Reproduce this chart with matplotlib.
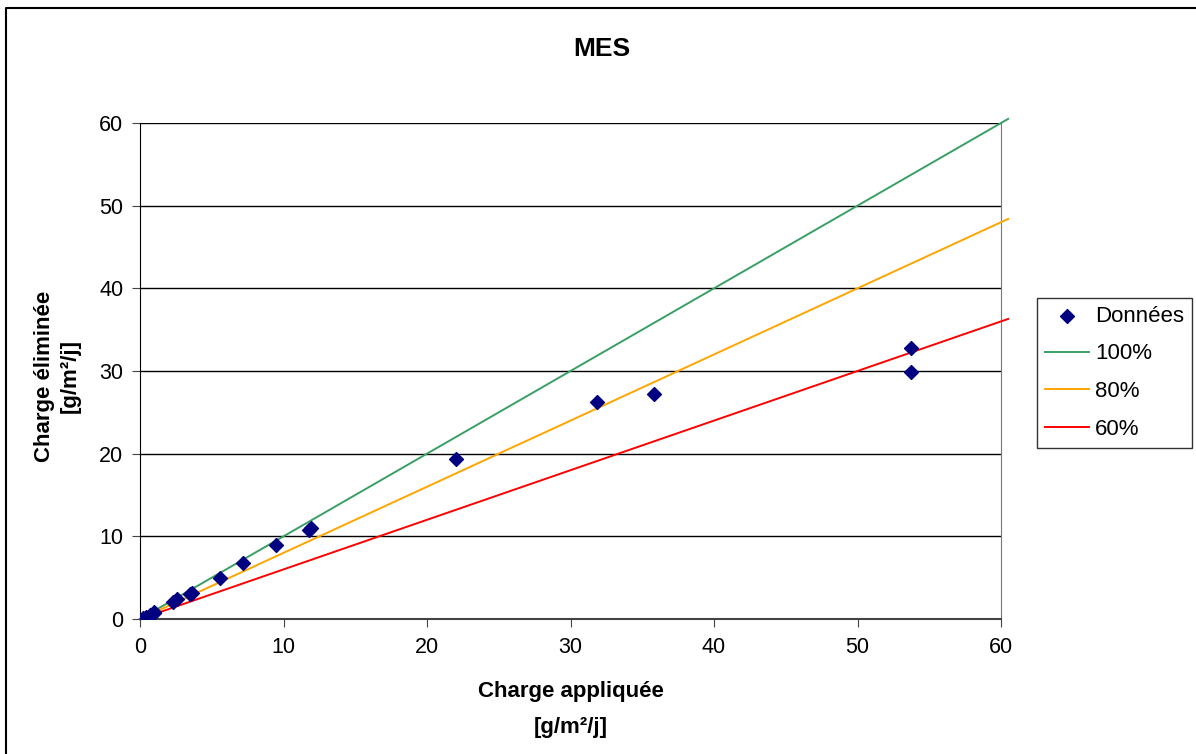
import matplotlib.pyplot as plt
from matplotlib.lines import Line2D

# data
applied = [0.2, 0.4, 0.7, 0.95, 1.0, 2.3, 2.55, 3.5, 3.65, 5.55, 7.15, 9.5, 11.8, 11.9, 22.0, 31.85, 35.8, 53.7, 53.7]
removed = [0.15, 0.3, 0.5, 0.7, 0.8, 2.0, 2.4, 3.0, 3.2, 4.9, 6.8, 8.9, 10.8, 11.0, 19.3, 26.2, 27.2, 32.8, 29.9]
line_x = [0, 60.5]
ratios = [1.0, 0.8, 0.6]
ratio_labels = ["100%", "80%", "60%"]
ratio_colors = ["#3a9f64", "#ffa500", "#ff0000"]

plt.rcParams['font.family'] = ['Liberation Sans', 'DejaVu Sans']

fig = plt.figure(figsize=(11.96, 7.54), dpi=100)
ax = fig.add_axes([140/1196, 1-619/754, (1001-140)/1196, (619-123)/754])

ax.scatter(applied, removed, marker='D', s=50, color='#000080', zorder=4, label='Données')
for r, lab, col in zip(ratios, ratio_labels, ratio_colors):
    ax.plot(line_x, [x*r for x in line_x], color=col, lw=1.4, label=lab, clip_on=False, zorder=3)

ax.set_xlim(0, 60)
ax.set_ylim(0, 60)
ax.set_xticks(range(0, 61, 10))
ax.set_yticks(range(0, 61, 10))
ax.tick_params(labelsize=15.5, length=6, direction='out', color='#444444', pad=6)
ax.tick_params(axis='x', pad=7)
ax.yaxis.grid(True, color='black', lw=1)
ax.set_axisbelow(True)
ax.spines['top'].set_visible(False)
ax.spines['right'].set_color('#777777')
ax.spines['left'].set_color('black')
ax.spines['bottom'].set_color('#444444')
ax.spines['bottom'].set_linewidth(1.5)

fig.text(571/1196, 1-692/754, "Charge appliquée", fontsize=16, fontweight='bold', ha='center', va='center')
fig.text(571/1196, 1-727/754, "[g/m²/j]", fontsize=16, fontweight='bold', ha='center', va='center')
fig.text(45/1196, 1-376/754, "Charge éliminée", fontsize=16, fontweight='bold', ha='center', va='center', rotation=90)
fig.text(70/1196, 1-376/754, "[g/m²/j]", fontsize=16, fontweight='bold', ha='center', va='center', rotation=90)
fig.text(602/1196, 1-49/754, "MES", fontsize=19, fontweight='bold', ha='center', va='center')

leg = ax.legend(loc='upper left', bbox_to_anchor=(1037/1196, 1-298/754), bbox_transform=fig.transFigure,
                fontsize=16, frameon=True, fancybox=False, edgecolor='black', handlelength=2.0,
                borderpad=0.35, labelspacing=0.75, handletextpad=0.25, borderaxespad=0)
leg.get_frame().set_linewidth(1)

# only the left and top edges of the outer frame are visible
fig.lines.append(Line2D([6/1196, 6/1196, 1], [0, 1-8/754, 1-8/754], transform=fig.transFigure,
                        color='black', lw=1.5))

fig.savefig("out.png", dpi=100)
